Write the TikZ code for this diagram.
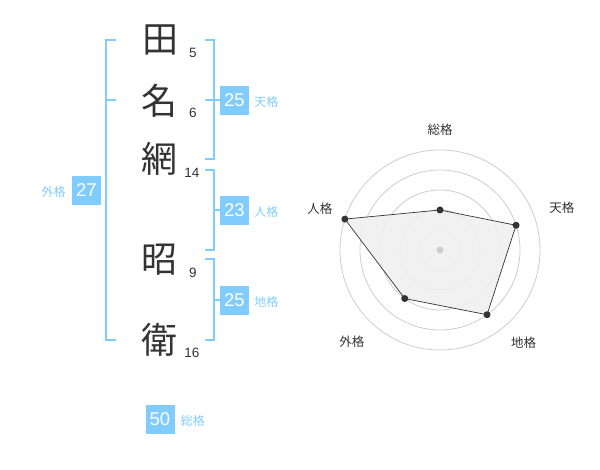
\documentclass[tikz,border=0pt]{standalone}
\usepackage{fontspec}
\setmainfont{Liberation Sans}
\newfontfamily\jpfont{Noto Sans CJK JP}
\usetikzlibrary{positioning}
\definecolor{kakublue}{HTML}{80CCFF}
\definecolor{inkgray}{HTML}{333333}
\definecolor{ringgray}{HTML}{CCCCCC}

\begin{document}
\begin{tikzpicture}[
    x=1pt, y=-1pt,
    kanji/.style={font=\jpfont\fontsize{36}{36}\selectfont, text=inkgray, inner sep=0pt},
    strokes/.style={font=\fontsize{13.5}{14}\selectfont, text=inkgray, inner sep=0pt},
    kaku_box/.style={fill=kakublue, text=white, minimum width=29pt, minimum height=29pt, inner sep=0pt, font=\fontsize{18.5}{19}\selectfont},
    kaku_label/.style={font=\jpfont\fontsize{12}{12}\selectfont, text=kakublue, inner sep=0pt},
    bracket/.style={draw=kakublue, line width=2pt},
    ring/.style={draw=ringgray, line width=0.8pt},
    axis_label/.style={font=\jpfont\fontsize{12.5}{13}\selectfont, text=inkgray, inner sep=0pt}
]
    \useasboundingbox (0,0) rectangle (600,470);

    % Name characters and stroke counts
    \node[kanji] (c1) at (160,40) {田};
    \node[kanji] (c2) at (159,101) {名};
    \node[kanji] (c3) at (159,159) {網};
    \node[kanji] (c4) at (159,260) {昭};
    \node[kanji] (c5) at (159,340) {衛};

    \node[strokes] (n1) at (193,53) {5};
    \node[strokes] (n2) at (193,113) {6};
    \node[strokes] (n3) at (192,173) {14};
    \node[strokes] (n4) at (193,273) {9};
    \node[strokes] (n5) at (192,353) {16};

    % Score boxes
    \node[kaku_box] (ten) at (234.5,100.5) {25};
    \node[kaku_box] (jin) at (234.5,210.5) {23};
    \node[kaku_box] (chi) at (234.5,300.5) {25};
    \node[kaku_box] (gai) at (86.5,190.5) {27};
    \node[kaku_box] (sou) at (160,419) {50};

    \node[kaku_label, anchor=base west] (tenL) at ([xshift=5pt]ten.base east) {天格};
    \node[kaku_label, anchor=base west] (jinL) at ([xshift=5pt]jin.base east) {人格};
    \node[kaku_label, anchor=base west] (chiL) at ([xshift=5pt]chi.base east) {地格};
    \node[kaku_label, anchor=base east] (gaiL) at ([xshift=-6pt]gai.base west) {外格};
    \node[kaku_label, anchor=base west] (souL) at ([xshift=6pt]sou.base east) {総格};

    % Brackets
    \coordinate (gTop) at (106,40);
    \coordinate (gMid) at (106,100);
    \coordinate (gBot) at (106,340);
    \draw[bracket] ([xshift=10pt]gTop) -- (gTop) -- (gBot) -- ([xshift=10pt]gBot);
    \draw[bracket] (gMid) -- ([xshift=10pt]gMid);

    \coordinate (tTop) at (214,40);
    \coordinate (tBot) at (214,159);
    \draw[bracket] ([xshift=-9pt]tTop) -- (tTop) -- (tBot) -- ([xshift=-9pt]tBot);
    \draw[bracket] ([xshift=-9pt]tTop |- ten.west) -- (ten.west);

    \coordinate (jTop) at (214,170);
    \coordinate (jBot) at (214,250);
    \draw[bracket] ([xshift=-9pt]jTop) -- (jTop) -- (jBot) -- ([xshift=-9pt]jBot);
    \draw[bracket] (jTop |- jin.west) -- (jin.west);

    \coordinate (cTop) at (214,259);
    \coordinate (cBot) at (214,340);
    \draw[bracket] ([xshift=-9pt]cTop) -- (cTop) -- (cBot) -- ([xshift=-9pt]cBot);
    \draw[bracket] (cTop |- chi.west) -- (chi.west);

    % Radar chart
    \begin{scope}[shift={(440,250)}, yscale=-1]
        \foreach \r in {20,40,60,80,100}
            \draw[ring] (0,0) circle[radius=\r pt];
        \coordinate (pSou) at (90:40);
        \coordinate (pTen) at (18:80);
        \coordinate (pChi) at (-54:80);
        \coordinate (pGai) at (-126:60);
        \coordinate (pJin) at (162:100);
        \filldraw[fill=black!6, fill opacity=0.9, draw=inkgray, line width=0.7pt]
            (pSou) -- (pTen) -- (pChi) -- (pGai) -- (pJin) -- cycle;
        \foreach \p in {pSou,pTen,pChi,pGai,pJin}
            \fill[inkgray] (\p) circle[radius=3.5pt];
        \fill[ringgray] (0,0) circle[radius=3.5pt];

        \node[axis_label] (aSou) at (90:120) {総格};
        \node[axis_label] (aTen) at (19:129) {天格};
        \node[axis_label] (aChi) at (-48:125) {地格};
        \node[axis_label] (aGai) at (-134:127) {外格};
        \node[axis_label] (aJin) at (161:127) {人格};
    \end{scope}
\end{tikzpicture}
\end{document}
